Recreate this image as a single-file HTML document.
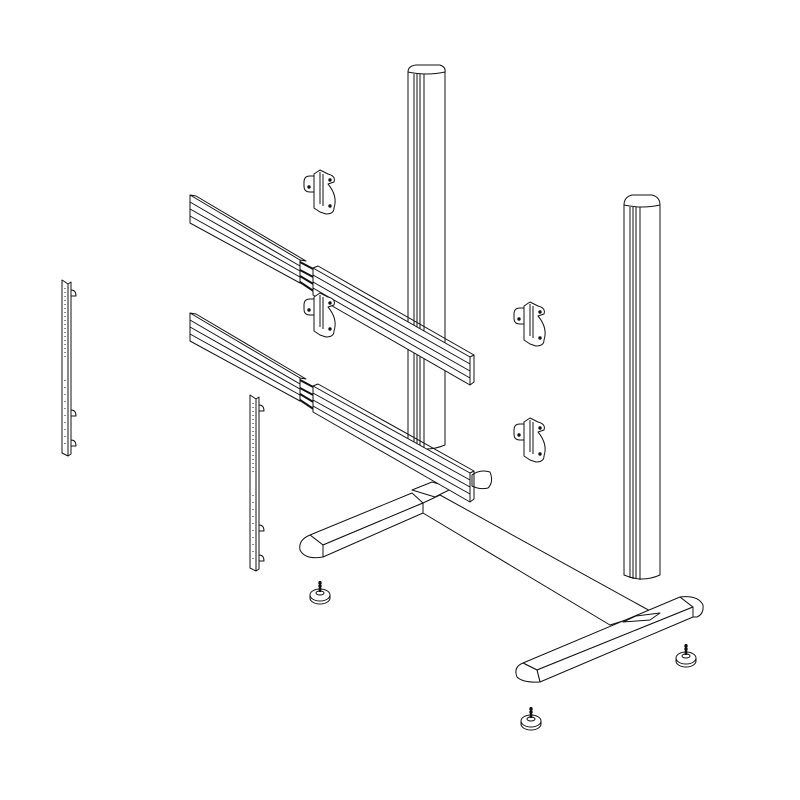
<!DOCTYPE html>
<html><head><meta charset="utf-8"><style>html,body{margin:0;padding:0;background:#fff}svg{display:block}</style></head>
<body>
<svg width="800" height="800" viewBox="0 0 800 800" xmlns="http://www.w3.org/2000/svg" fill="none" stroke="#111" stroke-width="1" stroke-linejoin="round">
<defs>
<g id="brk">
  <path d="M-14,-8 q0,-6 6,-6 l4,0 l0,16 l-4,0 q-6,0 -6,-6 z" fill="#fff"/>
  <path d="M-4,-16 l6,-4 l8,4 q8,2 6,8 l-6,2 q10,12 6,24 q0,6 -8,6 l-6,-2 l-6,-4 z" fill="#fff"/>
  <line x1="2" y1="-18" x2="2" y2="14"/><line x1="5" y1="-16" x2="5" y2="16"/>
  <circle cx="-9" cy="-3" r="1.2" fill="#111"/><circle cx="12" cy="-10" r="1.2" fill="#111"/><circle cx="12" cy="16" r="1.2" fill="#111"/>
</g>
<g id="foot">
  <ellipse cx="0" cy="10" rx="10" ry="6" fill="#fff"/>
  <path d="M-10,10 l0,3 a10,6 0 0 0 20,0 l0,-3"/>
  <ellipse cx="0" cy="8" rx="4" ry="2"/>
  <line x1="0" y1="-4" x2="0" y2="7" stroke-width="2.5"/>
  <line x1="-2" y1="-2" x2="2" y2="-2"/><line x1="-2" y1="1" x2="2" y2="1"/>
</g>
<g id="vrail">
  <path d="M0,0 l6,4 l0,172 l-6,-3 z" fill="#fff"/>
  <path d="M6,4 l3,-2 l0,172 l-3,2"/>
  <path d="M9,10 q5,0 5,6 l-5,0 M9,130 q5,0 5,6 l-5,0 M9,160 q5,0 5,6 l-5,0"/>
  <line x1="3" y1="8" x2="3" y2="80" stroke-dasharray="1 3"/>
  <line x1="3" y1="100" x2="3" y2="170" stroke-dasharray="1 6"/>
</g>
</defs>

<!-- base: beam -->
<path d="M440,495 L652,612 L610,625 L423,513 L423,503 Z" fill="#fff"/>
<!-- left arm -->
<path d="M310,535 L412,493 L423,503 L323,545 Z" fill="#fff"/>
<path d="M323,545 L423,503 L423,513 L323,557 Z" fill="#fff"/>
<path d="M310,535 q-12,5 -10,15 q5,10 23,7 L323,545 Z" fill="#fff"/>
<path d="M412,490 L432,482 L453,488 L435,497 Z" fill="#fff"/>
<!-- rear post base -->
<path d="M472,475 q8,-6 18,-3 q4,10 -2,16 q-8,2 -16,-2 z" fill="#fff"/>
<!-- right arm -->
<path d="M523,663 L680,597 L693,607 L537,670 Z" fill="#fff"/>
<path d="M537,670 L693,607 L693,617 L540,682 Z" fill="#fff"/>
<path d="M537,670 L523,663 q-10,4 -6,14 q6,6 23,5 Z" fill="#fff"/>
<path d="M680,597 q18,-2 23,8 q1,9 -6,12 L693,617 L693,607 Z" fill="#fff"/>
<path d="M623,622 L636,616 L660,613 L650,620 Z" fill="#fff"/>

<!-- left column -->
<path d="M408,72 L408,445 q18,8 37,0 L445,72 Z" fill="#fff"/>
<path d="M408,72 q0,-6 8,-7 l24,0 q6,2 5,7 q-18,4 -37,0 z" fill="#fff"/>
<line x1="414" y1="74" x2="414" y2="447"/><line x1="417" y1="74" x2="417" y2="448"/><line x1="420" y1="74" x2="420" y2="448"/><line x1="424" y1="74" x2="424" y2="448"/>
<!-- right column -->
<path d="M624,205 L624,575 q18,8 36,0 L660,205 Z" fill="#fff"/>
<path d="M624,205 q0,-8 8,-10 l20,0 q8,2 8,10 q-18,4 -36,0 z" fill="#fff"/>
<line x1="630" y1="207" x2="630" y2="578"/><line x1="633" y1="207" x2="633" y2="579"/><line x1="636" y1="207" x2="636" y2="579"/><line x1="640" y1="207" x2="640" y2="580"/>

<!-- upper rail -->
<path d="M190,195 L300,260 L300,283 L190,223 Z" fill="#fff"/>
<path d="M190,195 L196,196 L306,261 L300,260"/>
<line x1="190" y1="202" x2="300" y2="266"/><line x1="190" y1="209" x2="300" y2="271"/><line x1="190" y1="216" x2="300" y2="277"/>
<path d="M300,262 L315,270 M300,270 L315,278 M300,276 L315,285 M300,282 L315,292" stroke-width="2"/>
<path d="M313,268 L470,357 L470,385 L313,295 Z" fill="#fff"/>
<path d="M313,268 L318,266 L474,355 L470,357 M470,385 L474,382 L474,355"/>
<line x1="313" y1="275" x2="470" y2="364"/><line x1="313" y1="282" x2="470" y2="371"/><line x1="313" y1="288" x2="470" y2="378"/>

<!-- lower rail -->
<path d="M190,313 L300,378 L300,401 L190,341 Z" fill="#fff"/>
<path d="M190,313 L196,314 L306,379 L300,378"/>
<line x1="190" y1="320" x2="300" y2="384"/><line x1="190" y1="327" x2="300" y2="389"/><line x1="190" y1="334" x2="300" y2="395"/>
<path d="M300,380 L315,388 M300,388 L315,396 M300,394 L315,403 M300,400 L315,410" stroke-width="2"/>
<path d="M313,386 L470,473 L470,502 L313,412 Z" fill="#fff"/>
<path d="M313,386 L318,384 L474,471 L470,473 M470,502 L474,499 L474,471"/>
<line x1="313" y1="393" x2="470" y2="480"/><line x1="313" y1="400" x2="470" y2="487"/><line x1="313" y1="406" x2="470" y2="494"/>

<!-- brackets -->
<use href="#brk" x="318" y="190"/>
<use href="#brk" x="318" y="313"/>
<use href="#brk" x="528" y="322"/>
<use href="#brk" x="528" y="438"/>

<!-- vertical rails -->
<use href="#vrail" x="62" y="280"/>
<use href="#vrail" x="250" y="395"/>

<!-- feet -->
<use href="#foot" x="320" y="585"/>
<use href="#foot" x="531" y="711"/>
<use href="#foot" x="686" y="648"/>
</svg>
</body></html>
